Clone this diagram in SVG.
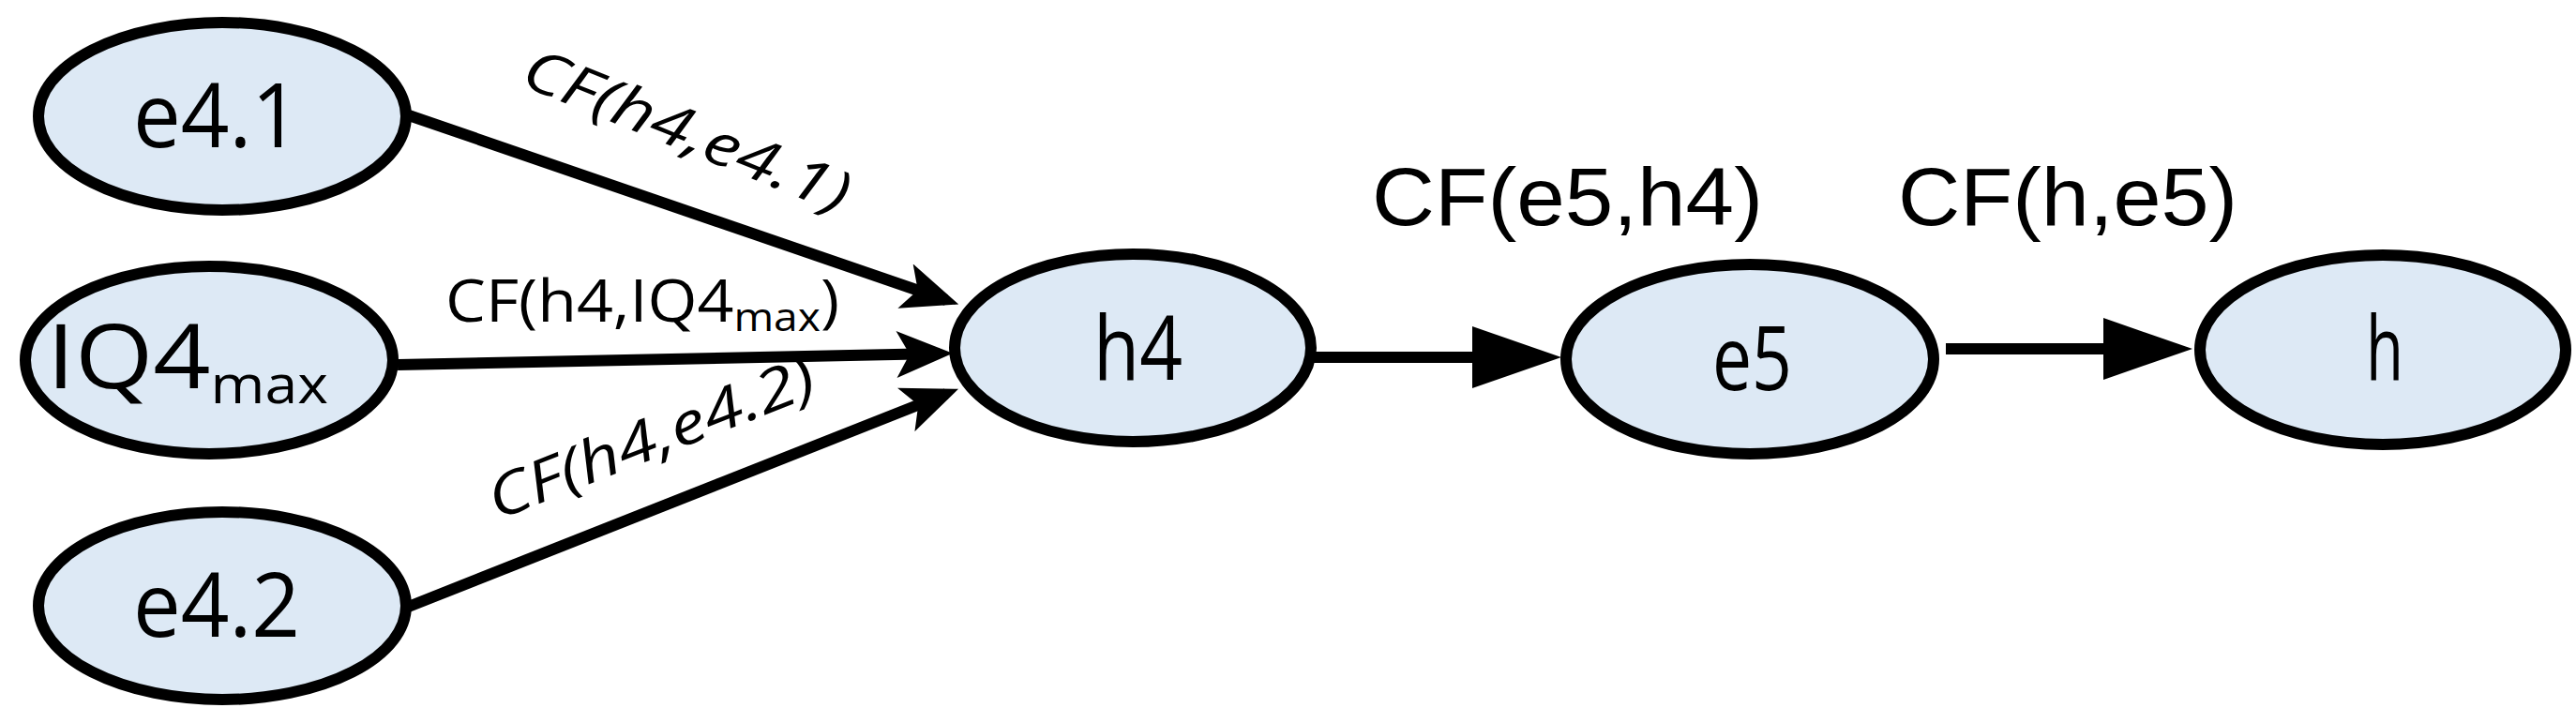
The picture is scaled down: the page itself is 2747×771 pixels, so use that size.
<svg xmlns="http://www.w3.org/2000/svg" width="2747" height="771" viewBox="0 0 2747 771">
<style>
.n{fill:#dde9f5;stroke:#000;stroke-width:12}
.t{font-family:"Open Sans","Liberation Sans",sans-serif;font-size:96px}
.l{font-family:"Open Sans","Liberation Sans",sans-serif;font-size:62px}
.a{font-family:"Liberation Sans",Arial,sans-serif;font-size:88px}
.c{stroke:#000;stroke-width:12;fill:none}
</style>
<defs>
<marker id="s" markerUnits="userSpaceOnUse" markerWidth="70" markerHeight="50" refX="46" refY="25" orient="auto"><path d="M0,0 L60,25 L0,50 L14,25 Z" fill="#000"/></marker>
<marker id="b" markerUnits="userSpaceOnUse" markerWidth="100" markerHeight="70" refX="75" refY="33" orient="auto"><path d="M0,0 L95,33 L0,66 Z" fill="#000"/></marker>
</defs>
<g id="connectors">
<line class="c" x1="433" y1="122" x2="1009" y2="320" marker-end="url(#s)"/>
<line class="c" x1="424" y1="389" x2="1002" y2="377" marker-end="url(#s)"/>
<line class="c" x1="433" y1="648" x2="1009" y2="420" marker-end="url(#s)"/>
<line class="c" x1="1397" y1="381" x2="1645" y2="381" marker-end="url(#b)"/>
<line class="c" x1="2075" y1="372" x2="2318" y2="372" marker-end="url(#b)"/>
<text class="l" font-style="italic" transform="translate(553,90) rotate(22)" textLength="370" lengthAdjust="spacingAndGlyphs">CF(h4,e4.1)</text>
<text class="l" x="475" y="343" textLength="420" lengthAdjust="spacingAndGlyphs">CF(h4,IQ4<tspan font-size="42" dy="10">max</tspan><tspan dy="-10">)</tspan></text>
<text class="l" font-style="italic" transform="translate(530,555) rotate(-21.5)" textLength="370" lengthAdjust="spacingAndGlyphs">CF(h4,e4.2)</text>
<text class="a" x="1463" y="240" textLength="417" lengthAdjust="spacingAndGlyphs">CF(e5,h4)</text>
<text class="a" x="2024" y="240" textLength="362" lengthAdjust="spacingAndGlyphs">CF(h,e5)</text>
</g>
<g id="e41"><ellipse class="n" cx="237" cy="124" rx="196" ry="100"/><text class="t" x="142" y="157" textLength="178" lengthAdjust="spacingAndGlyphs">e4.1</text></g>
<g id="iq4"><ellipse class="n" cx="223" cy="384" rx="196" ry="100"/><text class="t" x="50" y="414" textLength="300" lengthAdjust="spacingAndGlyphs">IQ4<tspan font-size="56" dy="16">max</tspan></text></g>
<g id="e42"><ellipse class="n" cx="237" cy="646" rx="196" ry="100"/><text class="t" x="142" y="679" textLength="178" lengthAdjust="spacingAndGlyphs">e4.2</text></g>
<g id="h4"><ellipse class="n" cx="1208" cy="371" rx="190" ry="100"/><text class="t" x="1166" y="405" textLength="95" lengthAdjust="spacingAndGlyphs">h4</text></g>
<g id="e5"><ellipse class="n" cx="1866" cy="383" rx="196" ry="101"/><text class="t" x="1826" y="416" textLength="85" lengthAdjust="spacingAndGlyphs">e5</text></g>
<g id="h"><ellipse class="n" cx="2541" cy="373" rx="195" ry="101"/><text class="t" x="2523" y="405" textLength="40" lengthAdjust="spacingAndGlyphs">h</text></g>
</svg>
